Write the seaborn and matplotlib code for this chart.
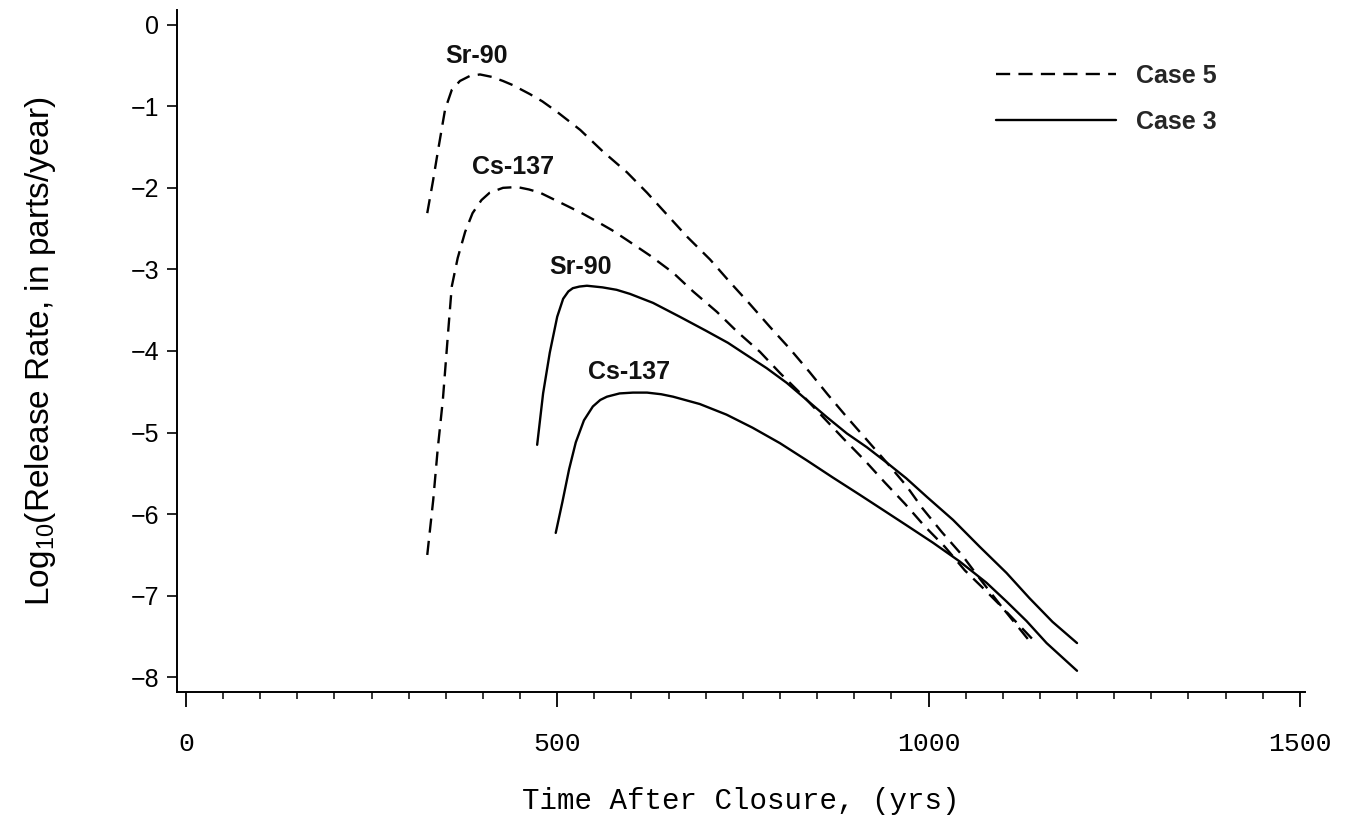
import matplotlib
matplotlib.use("Agg")
import matplotlib.pyplot as plt
import seaborn as sns
import pandas as pd
from matplotlib.lines import Line2D
from matplotlib.ticker import MultipleLocator

# ---------------- data ----------------
case5_sr90_t = [325, 333, 339, 345, 349, 358, 369, 382, 396, 412, 427, 440, 463, 480, 500, 531,
                561, 594, 621, 648, 675, 706, 732, 759, 786, 813, 840, 864, 890, 917, 944,
                970, 992, 1018, 1045, 1069, 1099, 1145]
case5_sr90_y = [-2.31, -1.90, -1.57, -1.25, -1.04, -0.80, -0.69, -0.63, -0.61, -0.64, -0.69,
                -0.74, -0.85, -0.94, -1.07, -1.29, -1.55, -1.81, -2.06, -2.33, -2.60, -2.88,
                -3.15, -3.42, -3.70, -3.97, -4.26, -4.53, -4.81, -5.09, -5.37, -5.65, -5.93,
                -6.22, -6.50, -6.79, -7.14, -7.58]

case5_cs137_t = [325, 333, 339, 346, 353, 358, 366, 376, 386, 398, 409, 427, 446, 462, 477,
                 495, 513, 533, 553, 574, 594, 625, 656, 683, 715, 742, 773, 800, 830, 858,
                 885, 914, 941, 968, 995, 1022, 1049, 1075, 1099, 1140]
case5_cs137_y = [-6.50, -5.83, -5.21, -4.60, -3.78, -3.21, -2.86, -2.54, -2.31, -2.15, -2.06,
                 -2.00, -1.99, -2.02, -2.06, -2.14, -2.22, -2.31, -2.41, -2.52, -2.64, -2.83,
                 -3.04, -3.27, -3.52, -3.76, -4.01, -4.27, -4.54, -4.81, -5.07, -5.34, -5.61,
                 -5.87, -6.15, -6.40, -6.69, -6.92, -7.14, -7.60]

case3_sr90_t = [473, 481, 490, 500, 508, 515, 521, 530, 540, 561, 580, 598, 629, 665, 700, 730,
                750, 782, 809, 836, 863, 890, 917, 944, 970, 998, 1033, 1069, 1105, 1136,
                1167, 1200]
case3_sr90_y = [-5.15, -4.52, -4.02, -3.58, -3.36, -3.27, -3.23, -3.21, -3.20, -3.22, -3.25,
                -3.30, -3.41, -3.58, -3.75, -3.90, -4.02, -4.21, -4.39, -4.60, -4.81, -5.01,
                -5.18, -5.37, -5.56, -5.79, -6.07, -6.40, -6.72, -7.03, -7.32, -7.58]

case3_cs137_t = [498, 507, 516, 525, 536, 548, 558, 567, 584, 602, 621, 640, 656, 692, 728,
                 763, 800, 836, 871, 907, 934, 971, 1006, 1042, 1078, 1105, 1132, 1159, 1200]
case3_cs137_y = [-6.23, -5.85, -5.45, -5.12, -4.85, -4.68, -4.60, -4.56, -4.52, -4.51, -4.51,
                 -4.53, -4.56, -4.65, -4.78, -4.94, -5.13, -5.34, -5.55, -5.76, -5.92, -6.14,
                 -6.35, -6.58, -6.84, -7.07, -7.31, -7.58, -7.92]

curve_labels = ["Sr-90", "Cs-137", "Sr-90", "Cs-137"]
label_t = [392, 440, 532, 597]
label_y = [-0.38, -1.74, -2.97, -4.26]

case_names = ["Case 5", "Case 3"]
x_ticks = [0, 500, 1000, 1500]
x_ticklabels = ["0", "500", "1000", "1500"]
y_ticks = [0, -1, -2, -3, -4, -5, -6, -7, -8]

# ---------------- long-form table ----------------
frames = []
for t, y, nuc, case in [(case5_sr90_t, case5_sr90_y, "Sr-90", "Case 5"),
                        (case5_cs137_t, case5_cs137_y, "Cs-137", "Case 5"),
                        (case3_sr90_t, case3_sr90_y, "Sr-90", "Case 3"),
                        (case3_cs137_t, case3_cs137_y, "Cs-137", "Case 3")]:
    frames.append(pd.DataFrame({"t": t, "lograte": y, "nuclide": nuc, "case": case,
                                "curve": nuc + " " + case}))
df = pd.concat(frames, ignore_index=True)

# ---------------- style ----------------
sns.set_theme(style="ticks")
plt.rcParams["font.family"] = ["Liberation Sans", "DejaVu Sans"]
plt.rcParams["mathtext.fontset"] = "custom"
plt.rcParams["mathtext.rm"] = "Liberation Sans"

fig = plt.figure(figsize=(13.5, 8.24), dpi=100)
ax = fig.add_axes([177 / 1350, 1 - 692 / 824, 1128 / 1350, 682 / 824])

dash_map = {"Case 5": (6, 3.5), "Case 3": ""}
sns.lineplot(data=df, x="t", y="lograte", units="curve", estimator=None, sort=False,
             style="case", dashes=dash_map, color="black", linewidth=1.7,
             legend=False, ax=ax)

for txt, tx, ty in zip(curve_labels, label_t, label_y):
    ax.text(tx, ty, txt, ha="center", va="center", fontsize=18, fontweight="bold",
            color="#111111")

handles = [Line2D([], [], color="black", lw=1.7, dashes=dash_map["Case 5"]),
           Line2D([], [], color="black", lw=1.7)]
ax.legend(handles, case_names, loc="upper left", bbox_to_anchor=(0.7257, 0.921),
          frameon=False, handlelength=4.8, handletextpad=0.8,
          labelspacing=0.88, borderpad=0, borderaxespad=0,
          prop={"family": "Liberation Sans", "weight": "bold", "size": 18})

ax.set_xlim(-12, 1507)
ax.set_ylim(-8.18, 0.18)
sns.despine(ax=ax)
for s in ["left", "bottom"]:
    ax.spines[s].set_linewidth(1.4)
    ax.spines[s].set_color("black")

ax.set_xticks(x_ticks)
ax.set_xticklabels(x_ticklabels, fontfamily="Liberation Mono", fontsize=19)
ax.xaxis.set_minor_locator(MultipleLocator(50))
ax.set_yticks(y_ticks)
ax.set_yticklabels([f"{v:d}".replace("-", "\u2212") for v in y_ticks], fontsize=18)

ax.tick_params(axis="x", which="major", direction="out", length=11, width=1.3,
               pad=18, colors="black")
ax.tick_params(axis="x", which="minor", direction="out", length=5, width=1.1,
               colors="black")
ax.tick_params(axis="y", which="major", direction="out", length=7, width=1.2,
               pad=6, colors="black")

ax.set_xlabel("Time After Closure, (yrs)", fontfamily="Liberation Mono", fontsize=21,
              labelpad=22, color="black")
ax.set_ylabel(r"Log$_{\mathregular{10}}$(Release Rate, in parts/year)", fontsize=24,
              labelpad=52, color="black")

fig.savefig("out.png", dpi=100, facecolor="white")
